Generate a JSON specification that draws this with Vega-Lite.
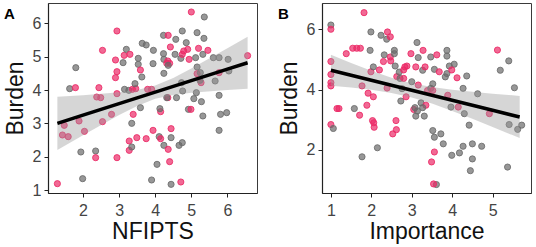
{
  "$schema": "https://vega.github.io/schema/vega-lite/v6.json",
  "padding": {"left": 3, "top": 2, "right": 2, "bottom": 2},
  "spacing": 19,
  "config": {
    "font": "Liberation Sans",
    "view": {"stroke": "#3a3a3a", "strokeWidth": 1},
    "axis": {"grid": false, "labelOverlap": false, "domainColor": "#222222", "domainWidth": 1.2, "tickColor": "#222222", "tickSize": 4, "labelFontSize": 16, "labelColor": "#444444", "labelPadding": 3, "titleFontSize": 23, "titleFontWeight": "normal", "titleColor": "#111111"},
    "axisX": {"labelPadding": 5, "titlePadding": 2},
    "axisY": {"titlePadding": 5}
  },
  "datasets": {
    "ptsA": [
      {"x":1.29,"y":1.19,"g":"P"},{"x":1.48,"y":2.94,"g":"P"},{"x":1.43,"y":2.65,"g":"P"},{"x":1.59,"y":2.60,"g":"P"},
      {"x":1.63,"y":4.04,"g":"G"},{"x":1.79,"y":4.07,"g":"P"},{"x":1.80,"y":4.67,"g":"G"},{"x":1.89,"y":3.07,"g":"P"},
      {"x":2.04,"y":2.76,"g":"P"},{"x":1.94,"y":2.14,"g":"G"},{"x":1.99,"y":1.34,"g":"G"},{"x":2.35,"y":2.17,"g":"G"},
      {"x":2.35,"y":1.97,"g":"P"},{"x":2.44,"y":4.07,"g":"P"},{"x":2.38,"y":3.79,"g":"P"},{"x":2.49,"y":3.77,"g":"P"},
      {"x":2.54,"y":5.19,"g":"P"},{"x":2.54,"y":3.05,"g":"P"},{"x":2.79,"y":3.27,"g":"P"},{"x":2.90,"y":4.37,"g":"P"},
      {"x":2.94,"y":4.55,"g":"P"},{"x":2.90,"y":4.90,"g":"P"},{"x":2.94,"y":5.77,"g":"P"},{"x":2.94,"y":3.89,"g":"P"},
      {"x":2.94,"y":1.97,"g":"P"},{"x":3.11,"y":4.82,"g":"G"},{"x":3.14,"y":5.04,"g":"P"},{"x":3.20,"y":5.22,"g":"G"},
      {"x":3.30,"y":5.07,"g":"P"},{"x":3.15,"y":4.02,"g":"G"},{"x":3.27,"y":3.99,"g":"G"},{"x":3.28,"y":2.47,"g":"P"},
      {"x":3.28,"y":2.19,"g":"P"},{"x":3.35,"y":2.29,"g":"G"},{"x":3.35,"y":3.00,"g":"G"},{"x":3.39,"y":3.27,"g":"P"},
      {"x":3.37,"y":4.02,"g":"P"},{"x":3.46,"y":4.04,"g":"P"},{"x":3.44,"y":4.19,"g":"G"},{"x":3.49,"y":2.57,"g":"P"},
      {"x":3.53,"y":4.95,"g":"G"},{"x":3.53,"y":4.77,"g":"G"},{"x":3.59,"y":4.60,"g":"P"},{"x":3.63,"y":4.39,"g":"G"},
      {"x":3.59,"y":3.47,"g":"G"},{"x":3.64,"y":5.40,"g":"G"},{"x":3.75,"y":5.35,"g":"G"},{"x":3.75,"y":2.54,"g":"P"},
      {"x":3.79,"y":4.02,"g":"P"},{"x":3.90,"y":4.02,"g":"P"},{"x":3.95,"y":5.19,"g":"G"},{"x":3.94,"y":4.79,"g":"G"},
      {"x":3.94,"y":2.79,"g":"P"},{"x":3.90,"y":1.30,"g":"G"},{"x":4.05,"y":1.77,"g":"G"},{"x":4.11,"y":2.60,"g":"G"},
      {"x":4.15,"y":2.54,"g":"P"},{"x":4.15,"y":3.35,"g":"P"},{"x":4.13,"y":3.44,"g":"G"},{"x":4.23,"y":5.64,"g":"G"},
      {"x":4.36,"y":5.64,"g":"P"},{"x":4.23,"y":5.09,"g":"G"},{"x":4.24,"y":4.92,"g":"G"},{"x":4.24,"y":4.50,"g":"G"},
      {"x":4.35,"y":4.87,"g":"P"},{"x":4.40,"y":4.80,"g":"P"},{"x":4.32,"y":4.80,"g":"P"},{"x":4.36,"y":4.74,"g":"G"},
      {"x":4.42,"y":5.29,"g":"P"},{"x":4.55,"y":5.07,"g":"G"},{"x":4.57,"y":5.52,"g":"G"},{"x":4.35,"y":3.77,"g":"P"},
      {"x":4.32,"y":3.77,"g":"G"},{"x":4.59,"y":3.77,"g":"G"},{"x":4.24,"y":2.34,"g":"G"},{"x":4.36,"y":2.22,"g":"P"},
      {"x":4.40,"y":1.85,"g":"P"},{"x":4.44,"y":2.84,"g":"P"},{"x":4.44,"y":2.57,"g":"G"},{"x":4.44,"y":1.17,"g":"G"},
      {"x":4.66,"y":2.34,"g":"G"},{"x":4.75,"y":2.42,"g":"G"},{"x":4.71,"y":1.24,"g":"P"},{"x":4.75,"y":5.77,"g":"G"},
      {"x":4.71,"y":4.95,"g":"G"},{"x":4.75,"y":5.07,"g":"P"},{"x":4.79,"y":5.17,"g":"P"},{"x":4.73,"y":4.22,"g":"G"},
      {"x":4.76,"y":3.97,"g":"G"},{"x":4.86,"y":5.42,"g":"G"},{"x":4.90,"y":5.22,"g":"P"},{"x":4.94,"y":4.92,"g":"P"},
      {"x":4.92,"y":3.42,"g":"G"},{"x":4.99,"y":3.42,"g":"P"},{"x":5.00,"y":6.34,"g":"P"},{"x":5.07,"y":3.74,"g":"G"},
      {"x":5.12,"y":4.97,"g":"G"},{"x":5.16,"y":5.72,"g":"G"},{"x":5.16,"y":4.69,"g":"G"},{"x":5.20,"y":5.25,"g":"P"},
      {"x":5.14,"y":3.92,"g":"G"},{"x":5.16,"y":4.49,"g":"P"},{"x":5.25,"y":4.52,"g":"G"},{"x":5.27,"y":4.22,"g":"P"},
      {"x":5.24,"y":4.29,"g":"G"},{"x":5.28,"y":3.65,"g":"G"},{"x":5.32,"y":3.22,"g":"G"},{"x":5.32,"y":5.07,"g":"G"},
      {"x":5.35,"y":5.55,"g":"G"},{"x":5.36,"y":6.19,"g":"G"},{"x":5.46,"y":5.19,"g":"P"},{"x":5.61,"y":4.97,"g":"G"},
      {"x":5.66,"y":4.27,"g":"G"},{"x":5.77,"y":4.97,"g":"G"},{"x":5.77,"y":4.52,"g":"P"},{"x":5.77,"y":3.84,"g":"G"},
      {"x":5.77,"y":2.79,"g":"G"},{"x":5.81,"y":3.27,"g":"G"},{"x":5.98,"y":3.32,"g":"G"},{"x":6.02,"y":4.92,"g":"G"},
      {"x":6.04,"y":4.57,"g":"G"},{"x":6.56,"y":5.03,"g":"P"}
    ],
    "ptsB": [
      {"x":1.00,"y":6.14,"g":"G"},{"x":1.00,"y":6.00,"g":"P"},{"x":1.00,"y":4.93,"g":"P"},{"x":1.00,"y":4.50,"g":"P"},
      {"x":1.00,"y":4.23,"g":"P"},{"x":1.00,"y":4.12,"g":"P"},{"x":1.00,"y":2.84,"g":"P"},{"x":1.06,"y":2.71,"g":"G"},
      {"x":1.15,"y":3.37,"g":"P"},{"x":1.20,"y":3.37,"g":"P"},{"x":1.38,"y":5.19,"g":"P"},{"x":1.54,"y":5.37,"g":"P"},
      {"x":1.64,"y":5.37,"g":"P"},{"x":1.73,"y":5.37,"g":"P"},{"x":1.58,"y":3.37,"g":"G"},{"x":1.71,"y":3.15,"g":"P"},
      {"x":1.77,"y":4.12,"g":"P"},{"x":1.77,"y":1.77,"g":"G"},{"x":1.82,"y":6.55,"g":"P"},{"x":1.89,"y":3.48,"g":"P"},
      {"x":1.92,"y":3.88,"g":"P"},{"x":1.97,"y":5.30,"g":"G"},{"x":1.99,"y":5.91,"g":"G"},{"x":1.99,"y":4.59,"g":"P"},
      {"x":2.05,"y":4.75,"g":"G"},{"x":2.05,"y":3.76,"g":"P"},{"x":2.03,"y":2.97,"g":"P"},{"x":2.06,"y":2.90,"g":"P"},
      {"x":2.07,"y":2.75,"g":"P"},{"x":2.15,"y":2.07,"g":"G"},{"x":2.24,"y":5.80,"g":"G"},{"x":2.20,"y":4.65,"g":"P"},
      {"x":2.32,"y":5.15,"g":"G"},{"x":2.30,"y":4.93,"g":"P"},{"x":2.38,"y":5.67,"g":"G"},{"x":2.40,"y":5.91,"g":"P"},
      {"x":2.47,"y":5.75,"g":"P"},{"x":2.39,"y":4.05,"g":"P"},{"x":2.47,"y":5.08,"g":"P"},{"x":2.48,"y":4.95,"g":"P"},
      {"x":2.57,"y":5.30,"g":"G"},{"x":2.57,"y":5.19,"g":"G"},{"x":2.59,"y":4.78,"g":"G"},{"x":2.53,"y":2.53,"g":"P"},
      {"x":2.61,"y":2.97,"g":"P"},{"x":2.62,"y":2.67,"g":"P"},{"x":2.63,"y":4.43,"g":"P"},{"x":2.69,"y":4.58,"g":"G"},
      {"x":2.71,"y":4.37,"g":"G"},{"x":2.76,"y":4.03,"g":"G"},{"x":2.73,"y":3.62,"g":"G"},{"x":2.80,"y":4.65,"g":"P"},
      {"x":2.83,"y":4.75,"g":"P"},{"x":2.88,"y":4.78,"g":"P"},{"x":2.86,"y":3.76,"g":"P"},{"x":2.80,"y":4.37,"g":"P"},
      {"x":3.00,"y":4.26,"g":"G"},{"x":2.98,"y":5.19,"g":"P"},{"x":3.05,"y":3.34,"g":"P"},{"x":3.08,"y":3.40,"g":"G"},
      {"x":3.10,"y":3.12,"g":"G"},{"x":3.14,"y":3.29,"g":"G"},{"x":3.10,"y":4.75,"g":"P"},{"x":3.13,"y":5.56,"g":"G"},
      {"x":3.16,"y":5.06,"g":"G"},{"x":3.16,"y":4.15,"g":"P"},{"x":3.23,"y":3.56,"g":"G"},{"x":3.27,"y":4.64,"g":"G"},
      {"x":3.28,"y":5.30,"g":"P"},{"x":3.31,"y":3.12,"g":"G"},{"x":3.33,"y":4.75,"g":"P"},{"x":3.35,"y":3.48,"g":"P"},
      {"x":3.27,"y":3.40,"g":"G"},{"x":3.39,"y":3.97,"g":"P"},{"x":3.47,"y":5.08,"g":"G"},{"x":3.52,"y":4.19,"g":"G"},
      {"x":3.47,"y":4.04,"g":"G"},{"x":3.52,"y":3.97,"g":"P"},{"x":3.52,"y":2.64,"g":"G"},{"x":3.56,"y":2.42,"g":"G"},
      {"x":3.49,"y":1.60,"g":"P"},{"x":3.56,"y":1.93,"g":"P"},{"x":3.61,"y":0.85,"g":"G"},{"x":3.54,"y":0.87,"g":"P"},
      {"x":3.56,"y":4.67,"g":"G"},{"x":3.62,"y":5.15,"g":"P"},{"x":3.72,"y":2.53,"g":"G"},{"x":3.78,"y":2.20,"g":"G"},
      {"x":3.68,"y":4.59,"g":"P"},{"x":3.87,"y":5.30,"g":"G"},{"x":3.87,"y":5.11,"g":"G"},{"x":3.83,"y":4.42,"g":"G"},
      {"x":3.87,"y":4.53,"g":"G"},{"x":3.93,"y":4.78,"g":"G"},{"x":4.05,"y":4.84,"g":"G"},{"x":3.89,"y":3.81,"g":"P"},
      {"x":3.99,"y":4.65,"g":"P"},{"x":3.97,"y":3.42,"g":"G"},{"x":3.99,"y":1.82,"g":"G"},{"x":4.12,"y":4.39,"g":"P"},
      {"x":4.18,"y":1.90,"g":"G"},{"x":4.15,"y":3.42,"g":"P"},{"x":4.27,"y":4.04,"g":"G"},{"x":4.30,"y":3.20,"g":"G"},
      {"x":4.27,"y":2.12,"g":"G"},{"x":4.36,"y":4.45,"g":"G"},{"x":4.42,"y":2.82,"g":"G"},{"x":4.45,"y":1.31,"g":"G"},
      {"x":4.50,"y":2.20,"g":"G"},{"x":4.50,"y":1.70,"g":"G"},{"x":4.63,"y":3.86,"g":"G"},{"x":4.73,"y":2.12,"g":"G"},
      {"x":4.92,"y":3.20,"g":"P"},{"x":5.12,"y":5.31,"g":"P"},{"x":5.19,"y":4.64,"g":"G"},{"x":5.37,"y":1.43,"g":"G"},
      {"x":5.40,"y":4.95,"g":"G"},{"x":5.41,"y":2.84,"g":"G"},{"x":5.54,"y":4.06,"g":"G"},{"x":5.62,"y":2.68,"g":"G"},
      {"x":5.72,"y":2.82,"g":"G"}
    ],
    "fitA": [
      {"x":1.29,"fit":3.000,"lo":2.203,"hi":3.797},
      {"x":2.0,"fit":3.245,"lo":2.646,"hi":3.844},
      {"x":3.0,"fit":3.590,"lo":3.250,"hi":3.930},
      {"x":3.5,"fit":3.762,"lo":3.523,"hi":4.001},
      {"x":4.0,"fit":3.935,"lo":3.735,"hi":4.136},
      {"x":4.5,"fit":4.107,"lo":3.851,"hi":4.363},
      {"x":5.0,"fit":4.280,"lo":3.916,"hi":4.644},
      {"x":6.0,"fit":4.625,"lo":3.998,"hi":5.252},
      {"x":6.56,"fit":4.818,"lo":4.036,"hi":5.600}
    ],
    "fitB": [
      {"x":1.0,"fit":4.640,"lo":4.130,"hi":5.150},
      {"x":1.5,"fit":4.474,"lo":4.066,"hi":4.882},
      {"x":2.0,"fit":4.308,"lo":3.990,"hi":4.626},
      {"x":2.5,"fit":4.142,"lo":3.889,"hi":4.395},
      {"x":3.0,"fit":3.976,"lo":3.740,"hi":4.212},
      {"x":3.5,"fit":3.810,"lo":3.535,"hi":4.085},
      {"x":4.0,"fit":3.644,"lo":3.292,"hi":3.996},
      {"x":4.5,"fit":3.478,"lo":3.031,"hi":3.925},
      {"x":5.0,"fit":3.312,"lo":2.760,"hi":3.864},
      {"x":5.67,"fit":3.090,"lo":2.390,"hi":3.790}
    ]
  },
  "hconcat": [
    {
      "width": 209,
      "height": 190,
      "title": {"text": "A", "anchor": "start", "frame": "bounds", "fontSize": 15, "fontWeight": "bold", "color": "#000000", "offset": 0, "dy": 19},
      "layer": [
        {
          "data": {"name": "ptsA"},
          "mark": {"type": "circle", "size": 38, "fillOpacity": 0.7, "strokeOpacity": 0.85, "strokeWidth": 1},
          "encoding": {
            "x": {"field": "x", "type": "quantitative", "title": "NFIPTS", "scale": {"domain": [1.03, 6.82], "nice": false, "zero": false}, "axis": {"values": [2, 3, 4, 5, 6], "labelOverlap": false}},
            "y": {"field": "y", "type": "quantitative", "title": "Burden", "scale": {"domain": [0.91, 6.61], "nice": false, "zero": false}, "axis": {"values": [1, 2, 3, 4, 5, 6], "tickCount": 6, "labelOverlap": false}},
            "color": {"field": "g", "type": "nominal", "scale": {"domain": ["G", "P"], "range": ["#6b6b6b", "#eb2a66"]}, "legend": null},
            "stroke": {"field": "g", "type": "nominal", "scale": {"domain": ["G", "P"], "range": ["#6b6b6b", "#eb2a66"]}, "legend": null}
          }
        },
        {
          "data": {"name": "fitA"},
          "mark": {"type": "area", "color": "#999999", "opacity": 0.4},
          "encoding": {
            "x": {"field": "x", "type": "quantitative", "title": "NFIPTS"},
            "y": {"field": "lo", "type": "quantitative", "title": "Burden"},
            "y2": {"field": "hi"}
          }
        },
        {
          "data": {"name": "fitA"},
          "mark": {"type": "line", "color": "#000000", "strokeWidth": 3.5},
          "encoding": {
            "x": {"field": "x", "type": "quantitative", "title": "NFIPTS"},
            "y": {"field": "fit", "type": "quantitative", "title": "Burden"}
          }
        }
      ]
    },
    {
      "width": 209,
      "height": 190,
      "title": {"text": "B", "anchor": "start", "frame": "bounds", "fontSize": 15, "fontWeight": "bold", "color": "#000000", "offset": 0, "dy": 19},
      "layer": [
        {
          "data": {"name": "ptsB"},
          "mark": {"type": "circle", "size": 38, "fillOpacity": 0.7, "strokeOpacity": 0.85, "strokeWidth": 1},
          "encoding": {
            "x": {"field": "x", "type": "quantitative", "title": "Importance", "scale": {"domain": [0.78, 5.95], "nice": false, "zero": false}, "axis": {"values": [1, 2, 3, 4, 5], "labelOverlap": false}},
            "y": {"field": "y", "type": "quantitative", "title": "Burden", "scale": {"domain": [0.57, 6.87], "nice": false, "zero": false}, "axis": {"values": [2, 4, 6], "labelOverlap": false}},
            "color": {"field": "g", "type": "nominal", "scale": {"domain": ["G", "P"], "range": ["#6b6b6b", "#eb2a66"]}, "legend": null},
            "stroke": {"field": "g", "type": "nominal", "scale": {"domain": ["G", "P"], "range": ["#6b6b6b", "#eb2a66"]}, "legend": null}
          }
        },
        {
          "data": {"name": "fitB"},
          "mark": {"type": "area", "color": "#999999", "opacity": 0.4},
          "encoding": {
            "x": {"field": "x", "type": "quantitative", "title": "Importance"},
            "y": {"field": "lo", "type": "quantitative", "title": "Burden"},
            "y2": {"field": "hi"}
          }
        },
        {
          "data": {"name": "fitB"},
          "mark": {"type": "line", "color": "#000000", "strokeWidth": 3.5},
          "encoding": {
            "x": {"field": "x", "type": "quantitative", "title": "Importance"},
            "y": {"field": "fit", "type": "quantitative", "title": "Burden"}
          }
        }
      ]
    }
  ]
}
